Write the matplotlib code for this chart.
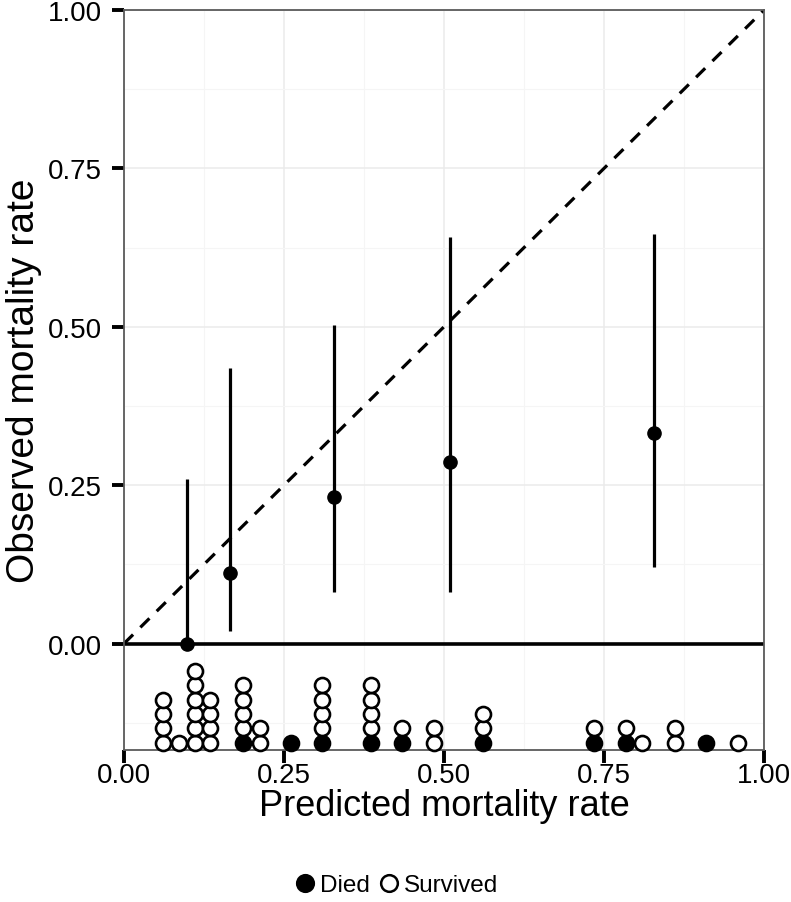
import numpy as np
import matplotlib.pyplot as plt
from matplotlib.lines import Line2D

plt.rcParams['font.family'] = ['Liberation Sans', 'DejaVu Sans']

# calibration groups: predicted vs observed mortality, with CI
pred = [0.098, 0.165, 0.328, 0.510, 0.828]
obs = [0.000, 0.111, 0.231, 0.286, 0.333]
ci_lo = [0.000, 0.020, 0.082, 0.082, 0.121]
ci_hi = [0.259, 0.435, 0.503, 0.641, 0.646]

# dot-plot bins of individual predictions (by outcome)
bin_x = [0.061, 0.086, 0.111, 0.134, 0.186, 0.212, 0.261, 0.309, 0.386,
         0.434, 0.484, 0.561, 0.734, 0.784, 0.809, 0.861, 0.909, 0.959]
n_died = [0, 0, 0, 0, 1, 0, 1, 1, 1, 1, 0, 1, 1, 1, 0, 0, 1, 0]
n_surv = [4, 1, 6, 4, 4, 2, 0, 4, 4, 1, 2, 2, 1, 1, 1, 2, 0, 1]

y_min, y_max = -0.168, 1.0

fig = plt.figure(figsize=(7.91, 9.03), dpi=100)
ax = fig.add_axes([124 / 791, 1 - 751 / 903, 640 / 791, 740 / 903])
ax.set_xlim(0, 1)
ax.set_ylim(y_min, y_max)

# grid
ax.set_xticks(np.arange(0, 1.01, 0.25))
ax.set_yticks(np.arange(0, 1.01, 0.25))
ax.set_xticks(np.arange(0.125, 1, 0.25), minor=True)
ax.set_yticks([-0.125, 0.125, 0.375, 0.625, 0.875], minor=True)
ax.grid(True, which='major', color='#ebebeb', lw=1.1, zorder=0)
ax.grid(True, which='minor', color='#f5f5f5', lw=0.8, zorder=0)
ax.set_axisbelow(True)

# reference lines
ax.axhline(0, color='black', lw=2.6, zorder=2)
ax.plot([0, 1], [0, 1], color='black', lw=2.3, ls=(0, (4, 3.2)), zorder=2)

# observed rates with intervals
ax.vlines(pred, ci_lo, ci_hi, color='black', lw=2.3, zorder=3)
ax.plot(pred, obs, 'o', color='black', ms=9.5, zorder=4)

# stacked dots: died at bottom, survived on top
step = 0.0226
base = y_min + 0.0118
for x, d, s in zip(bin_x, n_died, n_surv):
    for k in range(d + s):
        died = k < d
        ax.plot(x, base + k * step, 'o', ms=10.8,
                mfc='black' if died else 'white', mec='black', mew=1.9,
                zorder=5, clip_on=False)

for side in ax.spines.values():
    side.set_color('#5a5a5a')
    side.set_linewidth(1.3)

ax.tick_params(which='major', direction='out', length=9, width=2.8,
               color='black', labelsize=20)
ax.tick_params(axis='y', pad=7)
ax.tick_params(axis='x', pad=0)
ax.tick_params(which='minor', length=0)
ax.set_xticklabels(['0.00', '0.25', '0.50', '0.75', '1.00'])
ax.set_yticklabels(['0.00', '0.25', '0.50', '0.75', '1.00'])

ax.set_xlabel('Predicted mortality rate', fontsize=26, labelpad=0)
ax.set_ylabel('Observed mortality rate', fontsize=28, labelpad=4)

handles = [
    Line2D([], [], ls='none', marker='o', ms=12, mfc='black', mec='black', mew=1.8),
    Line2D([], [], ls='none', marker='o', ms=12, mfc='white', mec='black', mew=1.8),
]
fig.legend(handles, ['Died', 'Survived'], loc='lower center', ncol=2,
           bbox_to_anchor=(0.5, -0.018), frameon=False, fontsize=17.5,
           handletextpad=0.15, columnspacing=0.25, handlelength=1.0)

fig.savefig('out.png', dpi=100)
